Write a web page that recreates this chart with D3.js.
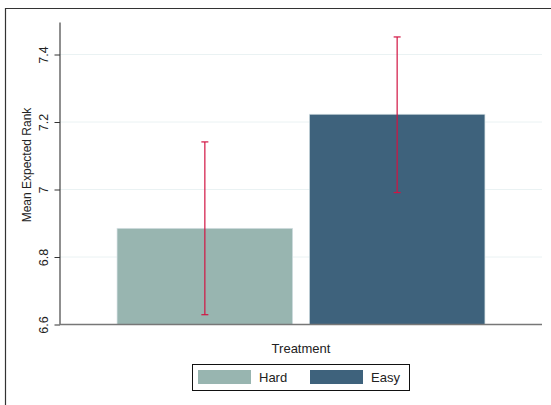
<!DOCTYPE html>
<html><head><meta charset="utf-8">
<script src="https://cdn.jsdelivr.net/npm/d3@7"></script>
<style>body{margin:0;background:#fff}svg{display:block}text{font-family:"Liberation Sans",Arial,sans-serif;fill:#222}</style>
</head><body><svg id="c" width="551" height="405"></svg>
<script>
const groups = ["Hard", "Easy"];
const means = [6.885, 7.223];
const ciLow = [6.629, 6.991];
const ciHigh = [7.141, 7.452];
const colors = ["#98b5b0", "#3e627c"];
const yTicks = [6.6, 6.8, 7.0, 7.2, 7.4];
const yTickLabels = ["6.6", "6.8", "7", "7.2", "7.4"];

const svg = d3.select("#c");
const L = 60, R = 542, T = 22.5, B = 324.5;
const y = d3.scaleLinear().domain([6.6, 7.4]).range([B, 54.5]);
const x = d3.scaleBand().domain(groups).range([L, R]).paddingInner(0.0868).paddingOuter(0.2967);

// outer frame (cut off at right/bottom)
svg.append("path").attr("d", "M5.5,405 V8.5 H551").attr("fill", "none").attr("stroke", "#333").attr("stroke-width", 1.2);

// gridlines
svg.append("g").selectAll("line").data(yTicks.slice(1)).join("line")
  .attr("x1", L).attr("x2", R).attr("y1", d => y(d)).attr("y2", d => y(d))
  .attr("stroke", "#eaf2f3").attr("stroke-width", 1);

// bars
svg.append("g").selectAll("rect").data(groups).join("rect")
  .attr("x", d => x(d)).attr("width", x.bandwidth())
  .attr("y", (d, i) => y(means[i])).attr("height", (d, i) => y(6.6) - y(means[i]))
  .attr("fill", (d, i) => colors[i]).attr("stroke", "#d5e0e4").attr("stroke-width", 0.7);

// error bars
const eb = svg.append("g").attr("stroke", "#d21443").attr("stroke-width", 1.2);
groups.forEach((g, i) => {
  const cx = x(g) + x.bandwidth() / 2;
  eb.append("line").attr("x1", cx).attr("x2", cx).attr("y1", y(ciLow[i])).attr("y2", y(ciHigh[i]));
  [ciLow[i], ciHigh[i]].forEach(v => eb.append("line").attr("x1", cx - 3.5).attr("x2", cx + 3.5).attr("y1", y(v)).attr("y2", y(v)));
});

// y axis
const ya = svg.append("g").attr("transform", `translate(${L},0)`)
  .call(d3.axisLeft(y).tickValues(yTicks).tickFormat((d, i) => yTickLabels[i]).tickSize(5.5).tickSizeOuter(0));
ya.select(".domain").attr("d", `M0,${T}V${B}`).attr("stroke", "#333").attr("stroke-width", 1.1);
ya.selectAll(".tick line").attr("stroke", "#333");
ya.selectAll(".tick text").attr("transform", "rotate(-90)").attr("x", 0).attr("y", -12.5).attr("dy", 0)
  .attr("text-anchor", "middle").style("font-size", "12.5px").style("font-family", '"Liberation Sans",Arial,sans-serif').attr("fill", "#222");

// x axis line
svg.append("line").attr("x1", L).attr("x2", R).attr("y1", B).attr("y2", B).attr("stroke", "#777").attr("stroke-width", 1.5);

// titles
svg.append("text").attr("transform", `translate(31,165) rotate(-90)`).attr("text-anchor", "middle")
  .style("font-size", "12px").text("Mean Expected Rank");
svg.append("text").attr("x", 301).attr("y", 352.5).attr("text-anchor", "middle").style("font-size", "13px").text("Treatment");

// legend
const lg = svg.append("g");
lg.append("rect").attr("x", 192.5).attr("y", 364.5).attr("width", 217).attr("height", 26).attr("fill", "#fff").attr("stroke", "#111").attr("stroke-width", 1);
const lx = [198, 310];
groups.forEach((g, i) => {
  lg.append("rect").attr("x", lx[i]).attr("y", 370).attr("width", 53).attr("height", 14).attr("fill", colors[i]);
  lg.append("text").attr("x", lx[i] + 61).attr("y", 382).style("font-size", "13px").text(g);
});
</script></body></html>
